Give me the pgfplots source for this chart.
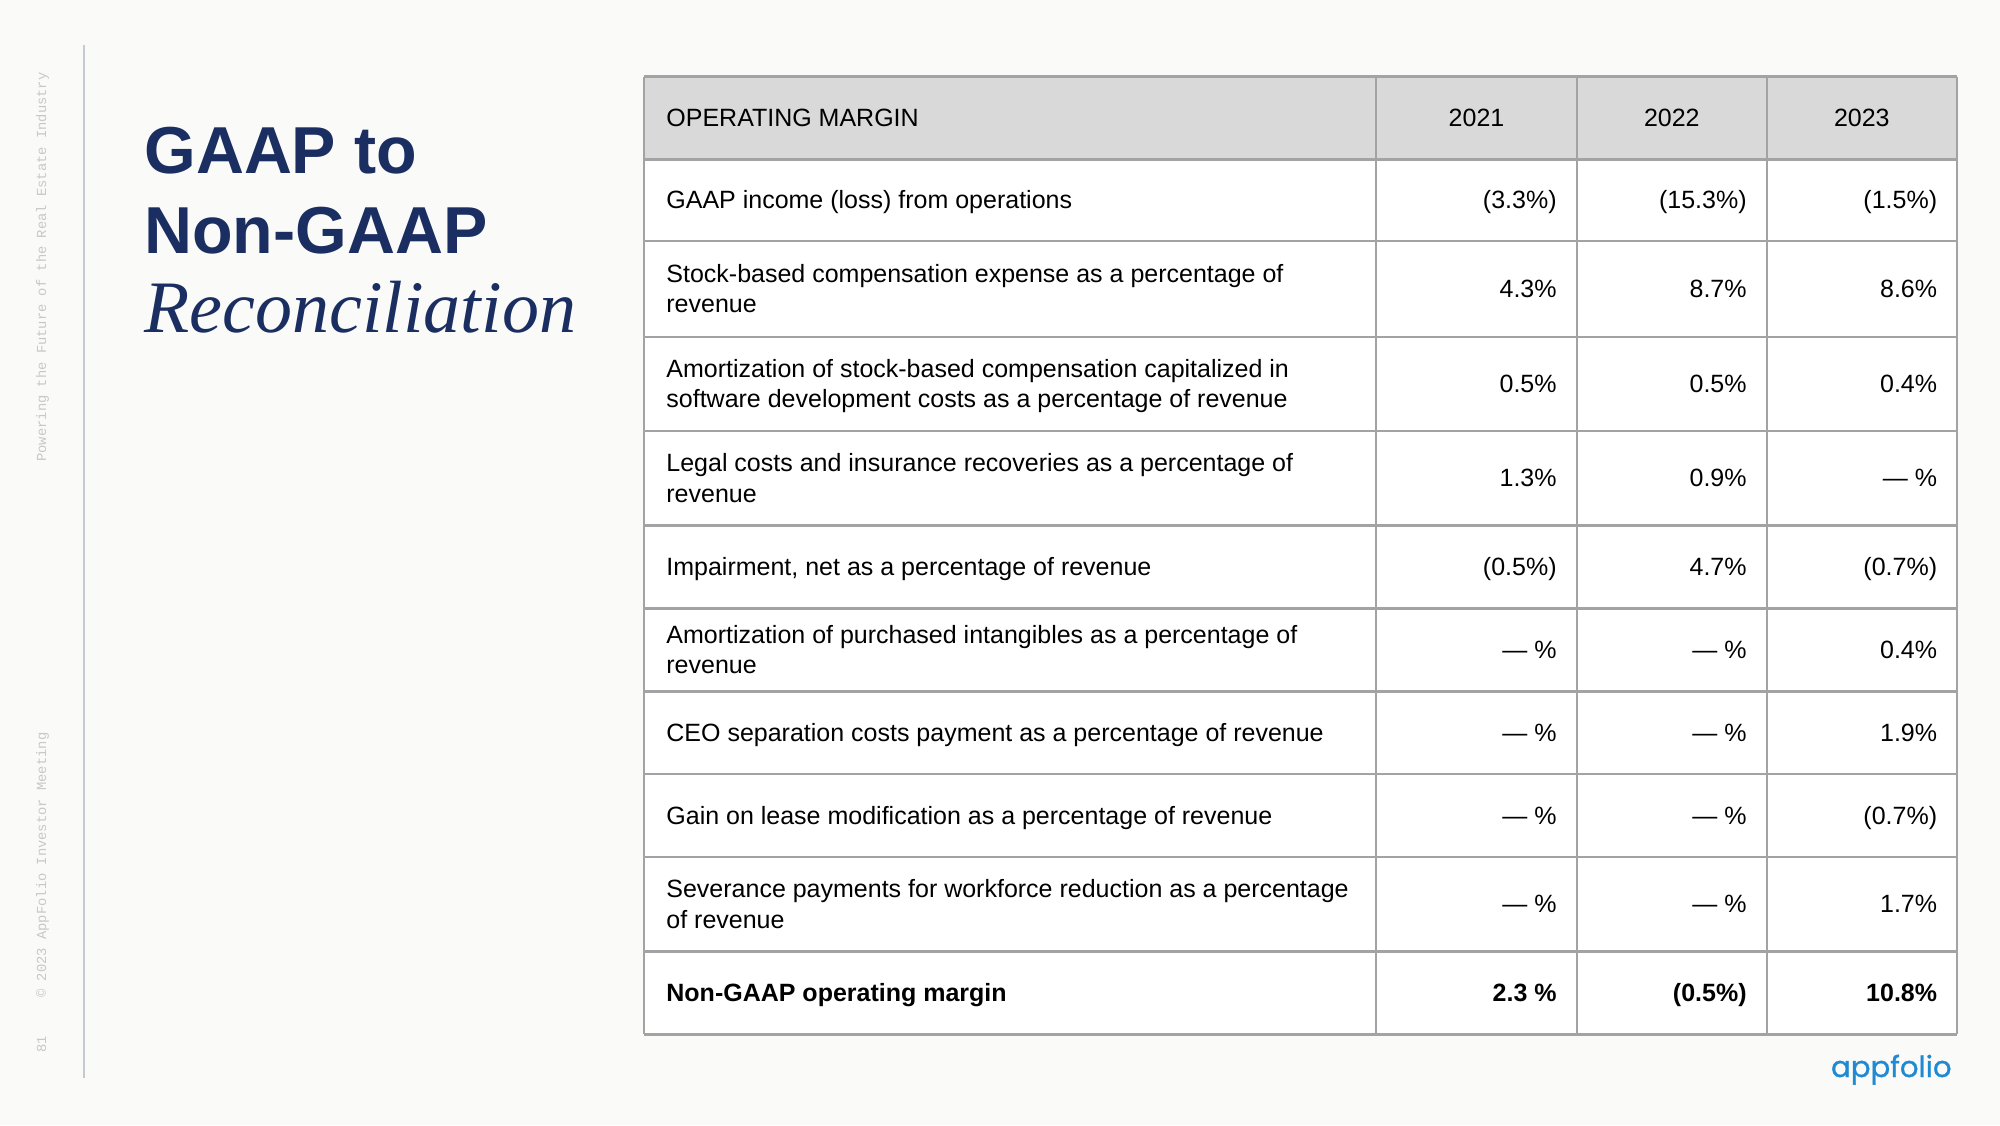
\documentclass[border=0pt]{standalone}
\usepackage{pgfplots}
\pgfplotsset{compat=1.18}
\usepackage{pgfplotstable}
\usepackage{fontspec}
\setmainfont{Liberation Sans}
\newfontfamily\titleserif{Liberation Serif}
\newfontfamily\sidemono{Liberation Mono}
\newfontfamily\logofont[FakeBold=1]{Poppins}
\definecolor{pagebg}{HTML}{FAFAF9}
\definecolor{navy}{HTML}{1B2E62}
\definecolor{gridgray}{HTML}{A3A3A3}
\definecolor{headgray}{HTML}{D9D9D9}
\definecolor{sidegray}{HTML}{C8C8C8}
\definecolor{divider}{HTML}{C5C9D0}
\definecolor{logoblue}{HTML}{1F8AD2}
\newcommand\tf{\fontsize{12.5}{14}\selectfont}

\pgfplotstableread[col sep=comma]{
y,a,b,c
200.3,(3.3\%),(15.3\%),(1.5\%)
288.9,4.3\%,8.7\%,8.6\%
383.9,0.5\%,0.5\%,0.4\%
478.3,1.3\%,0.9\%,— \%
567.0,(0.5\%),4.7\%,(0.7\%)
649.9,— \%,— \%,0.4\%
732.8,— \%,— \%,1.9\%
815.7,— \%,— \%,(0.7\%)
904.3,— \%,— \%,1.7\%
}\marginrows
\pgfplotstableread[col sep=comma]{
y,a,b,c
993.0,2.3 \%,(0.5\%),10.8\%
}\marginbold

\begin{document}
\begin{tikzpicture}
\begin{axis}[
  width=1000pt, height=562.5pt, scale only axis,
  xmin=0, xmax=2000, ymin=0, ymax=1125, y dir=reverse,
  hide axis, clip=false,
  valnode/.style={nodes near coords, point meta=explicit symbolic, draw=none, mark=none,
    nodes near coords style={anchor=base east, inner sep=0pt, text=black, font=\tf}},
]
% background
\fill[pagebg] (0,0) rectangle (2000,1125);
% side elements
\draw[divider, line width=1pt] (84,45) -- (84,1078);
\node[rotate=90, anchor=base west, inner sep=0pt, text=sidegray, font=\sidemono\fontsize{6.9}{8}\selectfont] at (46,462) {Powering the Future of the Real Estate Industry};
\node[rotate=90, anchor=base west, inner sep=0pt, text=sidegray, font=\sidemono\fontsize{6.9}{8}\selectfont] at (46,998) {© 2023 AppFolio Investor Meeting};
\node[rotate=90, anchor=base west, inner sep=0pt, text=sidegray, font=\sidemono\fontsize{6.9}{8}\selectfont] at (46,1053) {81};
% title
\node[anchor=base west, inner sep=0pt, text=navy, font=\bfseries\fontsize{33.2}{36}\selectfont] at (144,173) {GAAP to};
\node[anchor=base west, inner sep=0pt, text=navy, font=\bfseries\fontsize{33.2}{36}\selectfont] at (144,253) {Non-GAAP};
\node[anchor=base west, inner sep=0pt, text=navy, font=\titleserif\itshape\fontsize{37}{40}\selectfont] at (144,332) {Reconciliation};
% table fills
\fill[headgray] (644,76.5) rectangle (1957,159.4);
\fill[white] (644,159.4) rectangle (1957,1034.4);
% grid
\draw[gridgray, line width=1.2pt]
  (644,76.5) -- (1957,76.5)
  (644,159.4) -- (1957,159.4)
  (644,241.1) -- (1957,241.1)
  (644,336.7) -- (1957,336.7)
  (644,431.1) -- (1957,431.1)
  (644,525.5) -- (1957,525.5)
  (644,608.4) -- (1957,608.4)
  (644,691.3) -- (1957,691.3)
  (644,774.2) -- (1957,774.2)
  (644,857.1) -- (1957,857.1)
  (644,951.5) -- (1957,951.5)
  (644,1034.4) -- (1957,1034.4)
  (644,76.5) -- (644,1034.4)
  (1376,76.5) -- (1376,1034.4)
  (1577,76.5) -- (1577,1034.4)
  (1767,76.5) -- (1767,1034.4)
  (1957,76.5) -- (1957,1034.4);
% header
\node[anchor=base west, inner sep=0pt, font=\tf] at (666,126.6) {OPERATING MARGIN};
\node[anchor=base, inner sep=0pt, font=\tf] at (1476.5,126.6) {2021};
\node[anchor=base, inner sep=0pt, font=\tf] at (1671.8,126.6) {2022};
\node[anchor=base, inner sep=0pt, font=\tf] at (1861.8,126.6) {2023};
% row labels
\node[anchor=base west, inner sep=0pt, font=\tf] at (666,208.9) {GAAP income (loss) from operations};
\node[anchor=base west, inner sep=0pt, font=\tf] at (666,282.2) {Stock-based compensation expense as a percentage of};
\node[anchor=base west, inner sep=0pt, font=\tf] at (666,312.8) {revenue};
\node[anchor=base west, inner sep=0pt, font=\tf] at (666,377.2) {Amortization of stock-based compensation capitalized in};
\node[anchor=base west, inner sep=0pt, font=\tf] at (666,407.8) {software development costs as a percentage of revenue};
\node[anchor=base west, inner sep=0pt, font=\tf] at (666,471.6) {Legal costs and insurance recoveries as a percentage of};
\node[anchor=base west, inner sep=0pt, font=\tf] at (666,502.2) {revenue};
\node[anchor=base west, inner sep=0pt, font=\tf] at (666,575.6) {Impairment, net as a percentage of revenue};
\node[anchor=base west, inner sep=0pt, font=\tf] at (666,643.2) {Amortization of purchased intangibles as a percentage of};
\node[anchor=base west, inner sep=0pt, font=\tf] at (666,673.8) {revenue};
\node[anchor=base west, inner sep=0pt, font=\tf] at (666,741.4) {CEO separation costs payment as a percentage of revenue};
\node[anchor=base west, inner sep=0pt, font=\tf] at (666,824.3) {Gain on lease modification as a percentage of revenue};
\node[anchor=base west, inner sep=0pt, font=\tf] at (666,897.6) {Severance payments for workforce reduction as a percentage};
\node[anchor=base west, inner sep=0pt, font=\tf] at (666,928.2) {of revenue};
\node[anchor=base west, inner sep=0pt, font=\bfseries\tf] at (666,1001.6) {Non-GAAP operating margin};
% values
\addplot[valnode] table[x expr=1557, y expr=\thisrow{y}+8.6, meta=a] {\marginrows};
\addplot[valnode] table[x expr=1747, y expr=\thisrow{y}+8.6, meta=b] {\marginrows};
\addplot[valnode] table[x expr=1937.5, y expr=\thisrow{y}+8.6, meta=c] {\marginrows};
\addplot[valnode, nodes near coords style={font=\bfseries\tf}] table[x expr=1557, y expr=\thisrow{y}+8.6, meta=a] {\marginbold};
\addplot[valnode, nodes near coords style={font=\bfseries\tf}] table[x expr=1747, y expr=\thisrow{y}+8.6, meta=b] {\marginbold};
\addplot[valnode, nodes near coords style={font=\bfseries\tf}] table[x expr=1937.5, y expr=\thisrow{y}+8.6, meta=c] {\marginbold};
% logo
\node[anchor=base east, inner sep=0pt, text=logoblue, font=\logofont\fontsize{14.6}{18}\selectfont] at (1952,1077) {appfolio};
\end{axis}
\end{tikzpicture}
\end{document}
